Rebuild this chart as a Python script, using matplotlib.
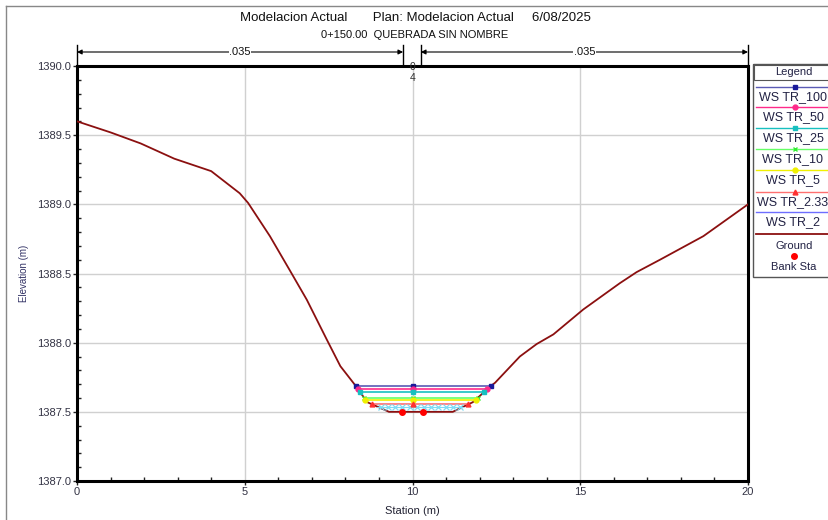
import numpy as np
import matplotlib
matplotlib.use("Agg")
import matplotlib.pyplot as plt
from matplotlib.transforms import blended_transform_factory
from matplotlib.lines import Line2D
from matplotlib.patches import Rectangle

plt.rcParams['font.family'] = ['Liberation Sans', 'DejaVu Sans']

# ---------------- data ----------------
ground_x = [0.0, 1.0, 1.9, 2.9, 4.0, 4.85, 5.1, 5.75, 6.35, 6.85, 7.45, 7.85, 8.3, 8.65,
            9.3, 11.2, 11.8, 12.35, 12.46, 13.2, 13.7, 14.2, 15.09, 16.18, 16.68, 17.38,
            18.67, 20.0]
ground_y = [1389.60, 1389.52, 1389.44, 1389.33, 1389.24, 1389.08, 1389.01, 1388.77, 1388.52,
            1388.31, 1388.02, 1387.83, 1387.69, 1387.57, 1387.50, 1387.50, 1387.57, 1387.69,
            1387.71, 1387.90, 1387.99, 1388.06, 1388.24, 1388.43, 1388.51, 1388.60, 1388.77,
            1389.00]
bank_sta = [9.7, 10.3]
bank_elev = [1387.50, 1387.50]

ws_names = ['WS TR_100', 'WS TR_50', 'WS TR_25', 'WS TR_10', 'WS TR_5', 'WS TR_2.33', 'WS TR_2']
ws_elev = [1387.689, 1387.665, 1387.641, 1387.602, 1387.589, 1387.554, 1387.537]
ws_colors = ['#1a1a9a', '#ff2a8a', '#18c0c0', '#33ee33', '#f0f000', '#ff3030', '#6e6eff']
ws_line_colors = ['#5a5ab4', '#ff2a8a', '#18c0c0', '#66ff66', '#f0f000', '#ff7070', '#6e6eff']
ws_markers = ['s', 'o', 's', 'x', 'o', '^', None]

roughness = ['.035', '.035']
rough_x = [0.0, 9.72, 10.25, 20.0]

title1 = 'Modelacion Actual       Plan: Modelacion Actual     6/08/2025'
title2 = '0+150.00  QUEBRADA SIN NOMBRE'

# ---------------- figure ----------------
fig = plt.figure(figsize=(8.29, 5.2), dpi=100)
W, H = 829, 520
ax = fig.add_axes([77 / W, 1 - 481 / H, (748 - 77) / W, (481 - 66) / H])

ax.set_xlim(0, 20)
ax.set_ylim(1387.0, 1390.0)
ax.set_xticks([0, 5, 10, 15, 20])
ax.set_yticks([1387.0, 1387.5, 1388.0, 1388.5, 1389.0, 1389.5, 1390.0])
ax.set_yticklabels([f'{v:.1f}' for v in ax.get_yticks()])
ax.set_xticks(np.arange(0, 21, 1), minor=True)
ax.set_yticks(np.arange(1387.0, 1390.01, 0.1), minor=True)
ax.grid(True, which='major', color='#d0d0d0', lw=1.0)
ax.set_axisbelow(True)
ax.tick_params(axis='both', which='major', direction='out', length=3, width=1,
               labelsize=8, colors='#222222', labelcolor='#333344', pad=1)
ax.tick_params(axis='both', which='minor', direction='in', length=3, width=1, colors='#222222')
for s in ax.spines.values():
    s.set_linewidth(2.2)
    s.set_color('black')

# Ground
gx = np.array(ground_x)
gy = np.array(ground_y)
ax.plot(gx, gy, color='#8b1010', lw=1.3, zorder=3)

# water surfaces
imin = int(np.argmin(gy))
left_x, left_y = gx[:imin + 1][::-1], gy[:imin + 1][::-1]
right_x, right_y = gx[imin:], gy[imin:]
for name, el, c, lc, m in zip(ws_names, ws_elev, ws_colors, ws_line_colors, ws_markers):
    xl = np.interp(el, left_y, left_x)
    xr = np.interp(el, right_y, right_x)
    if name == 'WS TR_2':
        ax.plot([xl, xr], [el, el], color='#7fdcf5', lw=0.8, zorder=4)
        xs = np.linspace(xl + 0.1, xr - 0.1, 12)
        ax.plot(xs, [el] * len(xs), ls='none', marker='x', ms=4, mew=0.9,
                color='#7fdcf5', zorder=4)
        continue
    ax.plot([xl, xr], [el, el], color=lc, lw=1.2, zorder=4)
    ax.plot([xl, 10.0, xr], [el] * 3, ls='none', marker=m, ms=3.5, color=c,
            mec=c, zorder=5)

# bank stations
ax.plot(bank_sta, bank_elev, ls='none', marker='o', ms=4, color='red', zorder=6)

ax.set_xlabel('Station (m)', fontsize=8, color='#222233', labelpad=7)
ax.set_ylabel('Elevation (m)', fontsize=7, color='#333366', labelpad=6)

# titles
fig.text(415 / W, 1 - 18 / H, title1, ha='center', va='center', fontsize=9.5, color='#111111')
fig.text(415 / W, 1 - 35 / H, title2, ha='center', va='center', fontsize=8, color='#111111')

# roughness arrows
tr = blended_transform_factory(ax.transData, fig.transFigure)
ya = 1 - 52 / H
for i, lab in enumerate(roughness):
    x0, x1 = rough_x[2 * i], rough_x[2 * i + 1]
    ax.annotate('', xy=(x0, ya), xytext=(x1, ya), xycoords=tr, textcoords=tr,
                arrowprops=dict(arrowstyle='<|-|>', color='black', lw=0.8,
                                mutation_scale=7, shrinkA=0, shrinkB=0),
                annotation_clip=False)
    fig.text((x0 + x1) / 2, ya, lab, transform=tr, ha='center', va='center',
             fontsize=8, color='#111111',
             bbox=dict(facecolor='white', edgecolor='none', pad=0.5))
    for xv in (x0, x1):
        fig.add_artist(Line2D([xv, xv], [1 - 45 / H, 1 - 64 / H], transform=tr,
                              color='black', lw=1))
fig.text(10.0, 1 - 67 / H, '0', transform=tr, ha='center', va='center', fontsize=7.5,
         color='#333333')
fig.text(10.0, 1 - 78 / H, '4', transform=tr, ha='center', va='center', fontsize=7.5,
         color='#333333')

# window border
fig.add_artist(Line2D([6 / W, 1], [1 - 6 / H, 1 - 6 / H], transform=fig.transFigure,
                      color='#888888', lw=1))
fig.add_artist(Line2D([6 / W, 6 / W], [0, 1 - 6 / H], transform=fig.transFigure,
                      color='#888888', lw=1))

# legend (HEC-RAS style)
lx0, ly_top, lx1, ly_bot = 752, 63, 840, 278
lax = fig.add_axes([lx0 / W, 1 - ly_bot / H, (lx1 - lx0) / W, (ly_bot - ly_top) / H])
lax.set_xlim(lx0, lx1)
lax.set_ylim(ly_bot, ly_top)
lax.axis('off')
lax.add_patch(Rectangle((lx0 + 1, ly_top + 1), lx1 - lx0, ly_bot - ly_top - 2, fill=False,
                        edgecolor='#555555', lw=1, clip_on=False))
lax.add_patch(Rectangle((lx0 + 2, ly_top + 2), lx1 - lx0, 15, fill=False,
                        edgecolor='#555555', lw=0.8, clip_on=False))
lax.text(794, 72, 'Legend', ha='center', va='center', fontsize=8, color='#222244')
line_y = [87, 107, 128, 149, 170, 192, 212]
for i, (name, c, lc, m) in enumerate(zip(ws_names, ws_colors, ws_line_colors, ws_markers)):
    yl = line_y[i]
    lax.plot([lx0 + 4, lx1], [yl, yl], color=lc, lw=1, clip_on=False)
    if m is not None:
        lax.plot([795], [yl], marker=m, ms=3.5, color=c, clip_on=False)
    lax.text(793, yl + 10.5, name, ha='center', va='center', fontsize=9, color='#222244',
             clip_on=False)
lax.plot([lx0 + 4, lx1], [234, 234], color='#8b1010', lw=1.3, clip_on=False)
lax.text(794, 246, 'Ground', ha='center', va='center', fontsize=8, color='#222244')
lax.plot([794], [256], marker='o', ms=4, color='red', ls='none')
lax.text(794, 267, 'Bank Sta', ha='center', va='center', fontsize=8, color='#222244')

fig.savefig('out.png', dpi=100)
